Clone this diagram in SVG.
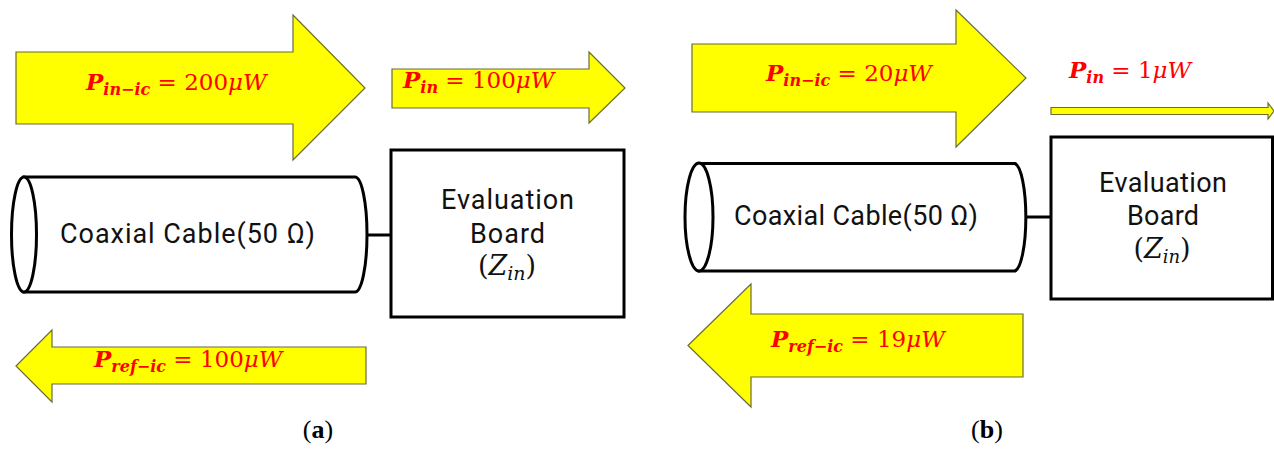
<svg xmlns="http://www.w3.org/2000/svg" width="1274" height="450" viewBox="0 0 1274 450">
<style>
.arrow{fill:#ffff00;stroke:#6b6b3a;stroke-width:1.2;stroke-linejoin:miter}
.ln{fill:none;stroke:#000;stroke-width:3}
.box{fill:#fff;stroke:#000;stroke-width:3}
.lbl{font-family:"DejaVu Serif",serif;font-size:23px;fill:#ff0000}
.bi{font-weight:bold;font-style:italic}
.it{font-style:italic}
.sub{font-size:16px}
.txt{font-family:Roboto,"Noto Sans",sans-serif;font-size:27px;fill:#111;text-anchor:middle}
.math{font-family:"DejaVu Serif",serif;font-size:27px;fill:#111}
.cap{font-family:"Liberation Serif",serif;font-size:26px;fill:#000;text-anchor:middle}
</style>
<g id="connectors">
<line class="ln" x1="367" y1="235" x2="391" y2="235"/>
<line class="ln" x1="1027" y1="217" x2="1051" y2="217"/>
</g>
<g id="arrow-a-in-ic">
<polygon class="arrow" points="16,52 293,52 293,15 365,88 293,160 293,124 16,124"/>
<text class="lbl" x="86" y="90"><tspan class="bi">P</tspan><tspan class="sub bi" dy="5">in−ic</tspan><tspan dy="-5"> = 200</tspan><tspan class="it">μW</tspan></text>
</g>
<g id="arrow-a-in">
<polygon class="arrow" points="392,69 589,69 589,52 625,88 589,123 589,108 392,108"/>
<text class="lbl" x="403" y="88"><tspan class="bi">P</tspan><tspan class="sub bi" dy="5">in</tspan><tspan dy="-5"> = 100</tspan><tspan class="it">μW</tspan></text>
</g>
<g id="arrow-a-ref">
<polygon class="arrow" points="16,366 52,330 52,347 366,347 366,384 52,384 52,402"/>
<text class="lbl" x="94" y="367"><tspan class="bi">P</tspan><tspan class="sub bi" dy="5">ref−ic</tspan><tspan dy="-5"> = 100</tspan><tspan class="it">μW</tspan></text>
</g>
<g id="cable-a">
<path class="box" d="M24 177 H355 A12 57.5 0 0 1 355 292 H24 Z"/>
<ellipse class="box" cx="24" cy="234.5" rx="12.5" ry="57.5"/>
<text class="txt" x="187.5" y="243" textLength="255">Coaxial Cable(50 Ω)</text>
</g>
<g id="board-a">
<rect class="box" x="391" y="150" width="233" height="167"/>
<text class="txt" x="507.5" y="209" textLength="133">Evaluation</text>
<text class="txt" x="507.5" y="243" textLength="75">Board</text>
<text class="math" x="507" y="275" text-anchor="middle">(<tspan class="it">Z</tspan><tspan class="it" font-size="19" dy="5">in</tspan><tspan dy="-5">)</tspan></text>
</g>
<g id="arrow-b-in-ic">
<polygon class="arrow" points="692,44 956,44 956,10 1026,78 956,147 956,112 692,112"/>
<text class="lbl" x="766" y="81"><tspan class="bi">P</tspan><tspan class="sub bi" dy="5">in−ic</tspan><tspan dy="-5"> = 20</tspan><tspan class="it">μW</tspan></text>
</g>
<g id="arrow-b-in">
<polygon class="arrow" points="1051,107.5 1268,107.5 1268,103 1274,111 1268,119 1268,114.5 1051,114.5"/>
<text class="lbl" x="1069" y="78"><tspan class="bi">P</tspan><tspan class="sub bi" dy="5">in</tspan><tspan dy="-5"> = 1</tspan><tspan class="it">μW</tspan></text>
</g>
<g id="arrow-b-ref">
<polygon class="arrow" points="688,345.5 751,284 751,314 1023,314 1023,377 751,377 751,407"/>
<text class="lbl" x="771" y="347"><tspan class="bi">P</tspan><tspan class="sub bi" dy="5">ref−ic</tspan><tspan dy="-5"> = 19</tspan><tspan class="it">μW</tspan></text>
</g>
<g id="cable-b">
<path class="box" d="M699 163.5 H1015 A12 54 0 0 1 1015 271 H699 Z"/>
<ellipse class="box" cx="699" cy="217" rx="14" ry="54"/>
<text class="txt" x="856" y="225" font-size="26" textLength="244">Coaxial Cable(50 Ω)</text>
</g>
<g id="board-b">
<rect class="box" x="1051" y="137" width="221.5" height="162"/>
<text class="txt" x="1163" y="192" font-size="26" textLength="128">Evaluation</text>
<text class="txt" x="1163" y="225" font-size="26" textLength="72">Board</text>
<text class="math" x="1162" y="258" text-anchor="middle" font-size="26">(<tspan class="it">Z</tspan><tspan class="it" font-size="18" dy="5">in</tspan><tspan dy="-5">)</tspan></text>
</g>
<g id="captions">
<text class="cap" x="318" y="438">(<tspan font-weight="bold">a</tspan>)</text>
<text class="cap" x="987" y="438">(<tspan font-weight="bold">b</tspan>)</text>
</g>
</svg>
